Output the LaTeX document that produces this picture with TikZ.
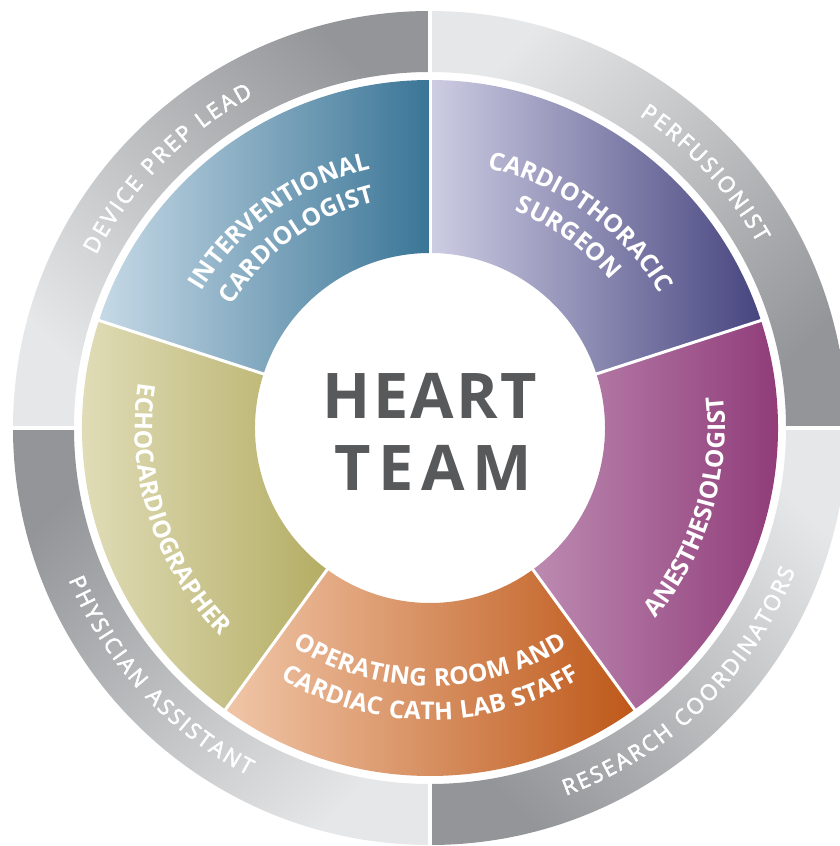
\documentclass[tikz,border=0pt]{standalone}
\usepackage{fontspec}
\setmainfont{Open Sans}
\newfontfamily\ringfont{Open Sans}[FakeBold=2.5]
\newfontfamily\segfont{Open Sans}[LetterSpace=5]
\newfontfamily\hubfontA{Open Sans}[LetterSpace=4]
\newfontfamily\hubfontB{Open Sans}[LetterSpace=12]
\usetikzlibrary{decorations.text}
\definecolor{ringD}{HTML}{939598}
\definecolor{ringL}{HTML}{E6E7E8}
\definecolor{blueL}{HTML}{C6D9E6}
\definecolor{blueR}{HTML}{3A7596}
\definecolor{purL}{HTML}{CDCDE3}
\definecolor{purR}{HTML}{47457F}
\definecolor{magL}{HTML}{BC8AB1}
\definecolor{magR}{HTML}{8B3373}
\definecolor{oraL}{HTML}{F0C6A8}
\definecolor{oraR}{HTML}{BE5819}
\definecolor{oliL}{HTML}{E5E2C1}
\definecolor{oliR}{HTML}{B4AD64}
\definecolor{hubtext}{HTML}{58595B}
\tikzset{
  ringtext/.style={decoration={text along path, text align=center, text color=white,
      text={|\ringfont\fontsize{22}{24}\selectfont\kern2.4pt|#1}}, decorate},
  segtext/.style={decoration={text along path, text align=center, text color=white,
      text={|\segfont\bfseries\fontsize{24.5}{27}\selectfont|#1}}, decorate},
  gapline/.style={white, line width=3pt},
  ringgap/.style={white, line width=4.5pt},
}
\begin{document}
\begin{tikzpicture}[x=1pt,y=1pt]
\useasboundingbox (-430,-418) rectangle (409,428);
\fill[white] (-430,-418) rectangle (409,428);
% outer ring quadrants
\shade[top color=ringD, bottom color=ringL, shading angle=-45]
  (180:356) arc[start angle=180,end angle=90,radius=356] -- (90:417) arc[start angle=90,end angle=180,radius=417] -- cycle;
\shade[top color=ringD, bottom color=ringL, shading angle=-135]
  (90:356) arc[start angle=90,end angle=0,radius=356] -- (0:417) arc[start angle=0,end angle=90,radius=417] -- cycle;
\shade[top color=ringD, bottom color=ringL, shading angle=135]
  (0:356) arc[start angle=0,end angle=-90,radius=356] -- (-90:417) arc[start angle=-90,end angle=0,radius=417] -- cycle;
\shade[top color=ringD, bottom color=ringL, shading angle=45]
  (270:356) arc[start angle=270,end angle=180,radius=356] -- (180:417) arc[start angle=180,end angle=270,radius=417] -- cycle;
\foreach \a in {0,90,180,270} \draw[ringgap] (\a:350) -- (\a:425);
% inner segments
\shade[left color=blueL, right color=blueR]
  (90:175) arc[start angle=90,end angle=162,radius=175] -- (162:348) arc[start angle=162,end angle=90,radius=348] -- cycle;
\shade[left color=purL, right color=purR]
  (18:175) arc[start angle=18,end angle=90,radius=175] -- (90:348) arc[start angle=90,end angle=18,radius=348] -- cycle;
\shade[left color=magL, right color=magR]
  (-54:175) arc[start angle=-54,end angle=18,radius=175] -- (18:348) arc[start angle=18,end angle=-54,radius=348] -- cycle;
\shade[left color=oraL, right color=oraR]
  (-126:175) arc[start angle=-126,end angle=-54,radius=175] -- (-54:348) arc[start angle=-54,end angle=-126,radius=348] -- cycle;
\shade[left color=oliL, right color=oliR]
  (162:175) arc[start angle=162,end angle=234,radius=175] -- (234:348) arc[start angle=234,end angle=162,radius=348] -- cycle;
\foreach \a in {90,18,-54,-126,162} \draw[gapline] (\a:172) -- (\a:351);
% ring texts
\path[ringtext={DEVICE PREP LEAD}] (180.5:376) arc[start angle=180.5,end angle=90.5,radius=376];
\path[ringtext={PERFUSIONIST}] (88:376) arc[start angle=88,end angle=-2,radius=376];
\path[ringtext={RESEARCH COORDINATORS}] (-95.7:392) arc[start angle=-95.7,end angle=4.3,radius=392];
\path[ringtext={PHYSICIAN ASSISTANT}] (177.4:392) arc[start angle=177.4,end angle=267.4,radius=392];
% segment texts
\path[segtext={INTERVENTIONAL}] (166:266) arc[start angle=166,end angle=86,radius=266];
\path[segtext={CARDIOLOGIST}] (166:233) arc[start angle=166,end angle=86,radius=233];
\path[segtext={CARDIOTHORACIC}] (94:266) arc[start angle=94,end angle=14,radius=266];
\path[segtext={SURGEON}] (94:233) arc[start angle=94,end angle=14,radius=233];
\path[segtext={ANESTHESIOLOGIST}] (-62:295) arc[start angle=-62,end angle=28,radius=295];
\path[segtext={ECHOCARDIOGRAPHER}] (153:295) arc[start angle=153,end angle=243,radius=295];
\path[segtext={OPERATING ROOM AND}] (225:258) arc[start angle=225,end angle=315,radius=258];
\path[segtext={CARDIAC CATH LAB STAFF}] (225:292) arc[start angle=225,end angle=315,radius=292];
% hub
\node[anchor=base, text=hubtext, inner sep=0pt, font=\hubfontA\bfseries\fontsize{63}{72}\selectfont] (hubA) at (0,10) {HEART};
\node[anchor=base, text=hubtext, inner sep=0pt, font=\hubfontB\bfseries\fontsize{63}{72}\selectfont] (hubB) at (3.5,-62) {TEAM};
\end{tikzpicture}
\end{document}
